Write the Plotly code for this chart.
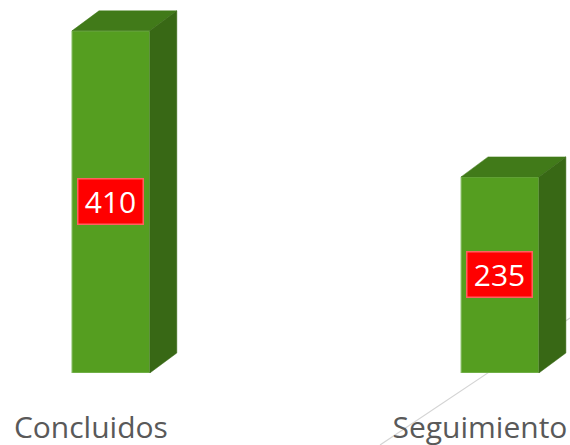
import plotly.graph_objects as go

categories = ["Concluidos", "Seguimiento"]
values = [410, 235]
label_texts = ["410", "235"]

FRONT = "#559e20"
TOP = "#417a19"
SIDE = "#386815"
BAR_W = 0.2
DX = 0.0694
DY = 24
TICK_SHIFT = 0.0514

positions = list(range(len(categories)))
fig = go.Figure()
fig.add_trace(go.Bar(
    x=positions, y=values, width=BAR_W,
    marker=dict(color=FRONT, line=dict(color="#8cc06c", width=1)),
    hoverinfo="skip", showlegend=False,
))
for p, v in zip(positions, values):
    l, r = p - BAR_W / 2, p + BAR_W / 2
    fig.add_trace(go.Scatter(
        x=[l, r, r + DX, l + DX, l], y=[v, v, v + DY, v + DY, v],
        mode="lines", fill="toself", fillcolor=TOP,
        line=dict(color=TOP, width=0.5), hoverinfo="skip", showlegend=False,
    ))
    fig.add_trace(go.Scatter(
        x=[r, r + DX, r + DX, r, r], y=[0, DY, v + DY, v, 0],
        mode="lines", fill="toself", fillcolor=SIDE,
        line=dict(color=SIDE, width=0.5), hoverinfo="skip", showlegend=False,
    ))
    fig.add_annotation(
        x=p, y=v / 2, text=label_texts[p], showarrow=False,
        font=dict(family="Open Sans, sans-serif", size=30, color="white"),
        bgcolor="#ff0000", bordercolor="#ff6060", borderwidth=1.5,
        width=64, height=44, borderpad=0,
    )

fig.update_layout(
    width=570, height=445, autosize=False,
    margin=dict(l=0, r=0, t=0, b=72),
    paper_bgcolor="white", plot_bgcolor="rgba(0,0,0,0)",
    shapes=[dict(type="line", xref="paper", yref="paper", layer="below",
                 x0=380 / 570, y0=(373 - 445) / 373, x1=1, y1=(373 - 318) / 373,
                 line=dict(color="#d4d4d4", width=1.2))],
)
fig.update_xaxes(
    range=[-0.285, 1.18], tickmode="array",
    tickvals=[p - TICK_SHIFT for p in positions], ticktext=categories,
    showgrid=False, zeroline=False, showline=False, automargin=False,
    ticks="outside", ticklen=28, tickcolor="rgba(0,0,0,0)",
    tickfont=dict(family="Open Sans, sans-serif", size=30, color="#595959"),
)
fig.update_yaxes(range=[0, 447], visible=False, automargin=False)
fig.write_html(
    "out.html", config=dict(displayModeBar=False),
    post_script="document.body.style.margin='0';document.body.style.overflow='hidden';",
)
